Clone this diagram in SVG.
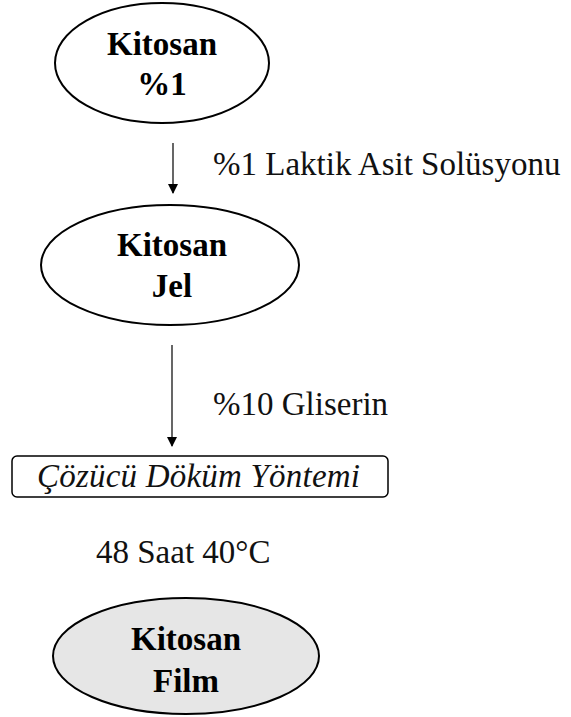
<svg xmlns="http://www.w3.org/2000/svg" width="571" height="717" viewBox="0 0 571 717">
<defs>
<marker id="ah" markerWidth="10" markerHeight="10" refX="9" refY="5" orient="auto" markerUnits="userSpaceOnUse">
<path d="M0,0 L10,5 L0,10 Z" fill="#000"/>
</marker>
<style>
.node{fill:#fff;stroke:#000;stroke-width:2}
.b{font-family:"Liberation Serif","Times New Roman",serif;font-weight:bold;font-size:33px;text-anchor:middle;fill:#000}
.r{font-family:"Liberation Serif","Times New Roman",serif;font-size:33px;fill:#111}
.conn{stroke:#000;stroke-width:1.2;fill:none;marker-end:url(#ah)}
</style>
</defs>
<rect width="571" height="717" fill="#fff"/>
<g id="connectors">
<line class="conn" x1="173" y1="143" x2="173" y2="193"/>
<line class="conn" x1="172" y1="345" x2="172" y2="446"/>
</g>
<g id="n1">
<ellipse class="node" cx="162" cy="63" rx="107" ry="60"/>
<text class="b" x="162" y="55">Kitosan</text>
<text class="b" x="162" y="95">%1</text>
</g>
<g id="l1"><text class="r" x="213" y="175">%1 Laktik Asit Solüsyonu</text></g>
<g id="n2">
<ellipse class="node" cx="170" cy="265" rx="129" ry="60"/>
<text class="b" x="172" y="256">Kitosan</text>
<text class="b" x="172" y="297">Jel</text>
</g>
<g id="l2"><text class="r" x="213" y="415">%10 Gliserin</text></g>
<g id="n3">
<rect x="12" y="456" width="376" height="41" rx="5" fill="#fff" stroke="#000" stroke-width="1.5"/>
<text class="r" x="37" y="487" font-style="italic" textLength="323">Çözücü Döküm Yöntemi</text>
</g>
<g id="l3"><text class="r" x="96" y="563">48 Saat 40°C</text></g>
<g id="n4">
<ellipse cx="186" cy="656" rx="133" ry="58" fill="#e6e6e6" stroke="#000" stroke-width="2"/>
<text class="b" x="186" y="650">Kitosan</text>
<text class="b" x="186" y="692">Film</text>
</g>
</svg>
